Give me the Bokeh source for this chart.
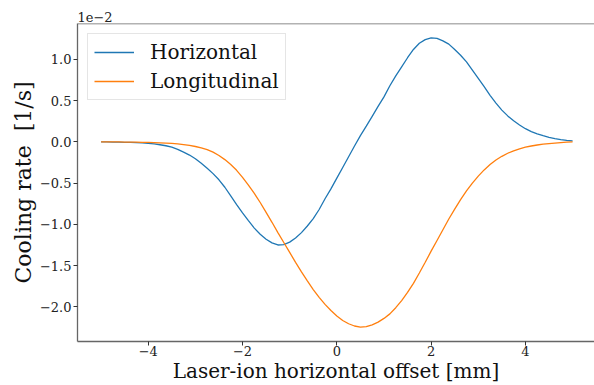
from bokeh.plotting import figure
from bokeh.models import FixedTicker, CustomJSTickFormatter, Range1d, Span
from bokeh.embed import file_html
from bokeh.resources import INLINE

# Laser-ion horizontal offset [mm]
offset_mm = [-5.0, -4.875, -4.75, -4.625, -4.5, -4.375, -4.25, -4.125,
             -4.0, -3.875, -3.75, -3.625, -3.5, -3.375, -3.25, -3.125,
             -3.0, -2.875, -2.75, -2.625, -2.5, -2.375, -2.25, -2.125,
             -2.0, -1.875, -1.75, -1.625, -1.5, -1.375, -1.25, -1.125,
             -1.0, -0.875, -0.75, -0.625, -0.5, -0.375, -0.25, -0.125,
             0.0, 0.125, 0.25, 0.375, 0.5, 0.625, 0.75, 0.875,
             1.0, 1.125, 1.25, 1.375, 1.5, 1.625, 1.75, 1.875,
             2.0, 2.125, 2.25, 2.375, 2.5, 2.625, 2.75, 2.875,
             3.0, 3.125, 3.25, 3.375, 3.5, 3.625, 3.75, 3.875,
             4.0, 4.125, 4.25, 4.375, 4.5, 4.625, 4.75, 4.875, 5.0]

# Cooling rate in units of 1e-2 [1/s]
horizontal = [0.000, -0.001, -0.002, -0.003, -0.005, -0.007, -0.010, -0.013,
              -0.018, -0.025, -0.035, -0.047, -0.065, -0.090, -0.125, -0.160,
              -0.205, -0.260, -0.320, -0.385, -0.460, -0.550, -0.655, -0.760,
              -0.860, -0.955, -1.045, -1.120, -1.180, -1.225, -1.250, -1.245,
              -1.215, -1.165, -1.100, -1.020, -0.930, -0.820, -0.690, -0.570,
              -0.440, -0.310, -0.180, -0.050, 0.075, 0.190, 0.310, 0.430,
              0.545, 0.680, 0.800, 0.910, 1.020, 1.120, 1.195, 1.240,
              1.260, 1.255, 1.225, 1.185, 1.120, 1.050, 0.970, 0.870,
              0.770, 0.670, 0.565, 0.470, 0.385, 0.315, 0.255, 0.205,
              0.160, 0.125, 0.098, 0.075, 0.055, 0.040, 0.028, 0.018, 0.012]

longitudinal = [0.000, 0.000, -0.001, -0.001, -0.002, -0.003, -0.004, -0.005,
                -0.007, -0.009, -0.012, -0.015, -0.019, -0.025, -0.033, -0.043,
                -0.056, -0.073, -0.095, -0.125, -0.165, -0.215, -0.275, -0.345,
                -0.430, -0.525, -0.625, -0.735, -0.855, -0.975, -1.100, -1.220,
                -1.340, -1.460, -1.575, -1.685, -1.790, -1.885, -1.970, -2.045,
                -2.110, -2.165, -2.205, -2.232, -2.245, -2.240, -2.218, -2.185,
                -2.140, -2.085, -2.010, -1.925, -1.825, -1.715, -1.590, -1.460,
                -1.325, -1.195, -1.065, -0.935, -0.815, -0.700, -0.595, -0.500,
                -0.415, -0.340, -0.275, -0.220, -0.175, -0.138, -0.108, -0.084,
                -0.065, -0.050, -0.038, -0.028, -0.020, -0.014, -0.009, -0.004, 0.000]

x_ticks = [-4, -2, 0, 2, 4]
y_ticks = [-2.0, -1.5, -1.0, -0.5, 0.0, 0.5, 1.0]

FONT = "DejaVu Serif"
X0, X1 = -5.5, 5.465
Y0, Y1 = -2.42, 1.435

p = figure(width=594, height=385, output_backend="svg", toolbar_location=None,
           x_range=Range1d(X0, X1), y_range=Range1d(Y0, Y1),
           min_border_left=77, min_border_top=23, min_border_bottom=42, min_border_right=0)
p.outline_line_color = None
p.xgrid.visible = False
p.ygrid.visible = False
p.background_fill_color = "white"
p.border_fill_color = "white"

p.title.text = "1e\u22122"
p.title.align = "left"
p.title.text_font = FONT
p.title.text_font_size = "13px"
p.title.text_font_style = "normal"
p.title.text_color = "#222222"
p.title.standoff = 3
p.title.offset = 0

p.line(offset_mm, horizontal, line_color="#1f77b4", line_width=1.3, legend_label="Horizontal")
p.line(offset_mm, longitudinal, line_color="#ff7f0e", line_width=1.3, legend_label="Longitudinal")

top = Span(location=Y1, dimension="width", line_color="#666666", line_width=1.3)
p.add_layout(top)

for ax in (p.xaxis[0], p.yaxis[0]):
    ax.axis_line_color = "#666666"
    ax.axis_line_width = 1.3
    ax.major_tick_line_color = "#333333"
    ax.major_tick_out = 4
    ax.major_tick_in = 0
    ax.minor_tick_line_color = None
    ax.major_label_text_font = FONT
    ax.major_label_text_font_size = "13px"
    ax.major_label_text_color = "#222222"
    ax.axis_label_text_font = FONT
    ax.axis_label_text_font_style = "normal"
    ax.axis_label_text_color = "#111111"

p.xaxis.axis_label_text_font_size = "20px"
p.yaxis.axis_label_text_font_size = "22px"
p.xaxis.ticker = FixedTicker(ticks=x_ticks)
p.yaxis.ticker = FixedTicker(ticks=y_ticks)
p.xaxis.formatter = CustomJSTickFormatter(code='return (tick < 0 ? "\\u2212" : "") + Math.abs(tick).toFixed(0);')
p.yaxis.formatter = CustomJSTickFormatter(code='return (tick < 0 ? "\\u2212" : "") + Math.abs(tick).toFixed(1);')
p.xaxis.major_label_standoff = 0
p.yaxis.major_label_standoff = 2
p.xaxis.axis_label = "Laser-ion horizontal offset [mm]"
p.yaxis.axis_label = "Cooling rate\u00a0 [1/s]"
p.xaxis.axis_label_standoff = 0
p.yaxis.axis_label_standoff = 1

lg = p.legend[0]
lg.location = "top_left"
lg.margin = 10
lg.padding = 6
lg.spacing = 5
lg.glyph_width = 40
lg.glyph_height = 22
lg.label_height = 22
lg.label_standoff = 16
lg.label_text_font = FONT
lg.label_text_font_size = "20px"
lg.label_text_color = "#111111"
lg.border_line_color = "#cccccc"
lg.border_line_width = 1
lg.background_fill_alpha = 0.8

open("out.html", "w").write(file_html(p, INLINE))
